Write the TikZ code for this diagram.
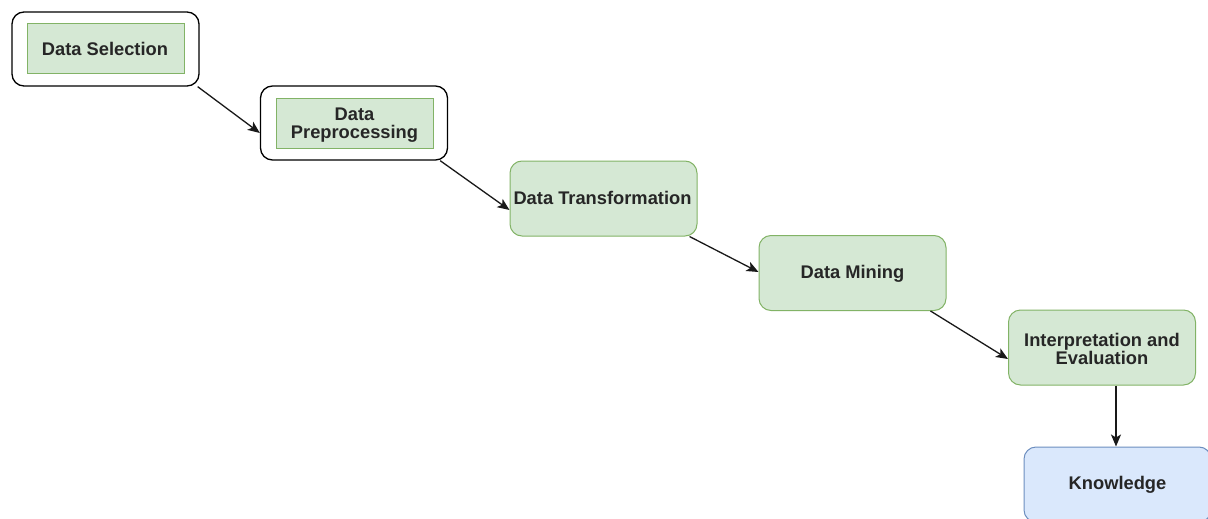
\documentclass[tikz,border=0pt]{standalone}
\usepackage{fontspec}
\setmainfont{Liberation Sans}
\usetikzlibrary{arrows.meta,calc}
\definecolor{gfill}{HTML}{D5E8D4}
\definecolor{gline}{HTML}{82B366}
\definecolor{bfill}{HTML}{DAE8FC}
\definecolor{bline}{HTML}{6C8EBF}
\definecolor{txt}{HTML}{262626}
\begin{document}
\begin{tikzpicture}[x=1pt,y=-1pt,
  lbl/.style={font=\fontsize{18.3}{18.5}\selectfont\bfseries, text=txt, align=center, inner sep=0pt},
  outerbox/.style={draw=black, fill=white, line width=1.3pt, rounded corners=12pt, minimum width=187pt, minimum height=74pt, inner sep=0pt},
  innerbox/.style={draw=gline, fill=gfill, line width=1pt, minimum width=157pt, minimum height=50pt, inner sep=0pt},
  greenbox/.style={draw=gline, fill=gfill, line width=1pt, rounded corners=12pt, minimum width=187pt, minimum height=75pt, inner sep=0pt},
  bluebox/.style={draw=bline, fill=bfill, line width=1pt, rounded corners=12pt, minimum width=187pt, minimum height=75pt, inner sep=0pt},
  conn/.style={draw=black!90, line width=1.3pt, -{Stealth[length=12pt,width=10pt,inset=3pt]}}]
\useasboundingbox (0,0) rectangle (1208,519);
\clip (0,0) rectangle (1208,519);

\node[outerbox] (o1) at (105.5,49) {};
\node[innerbox] (i1) at (105.5,49) {};
\node[lbl] (t1) at (105,49) {Data Selection};

\node[outerbox] (o2) at (354,123) {};
\node[innerbox] (i2) at (354.5,123) {};
\node[lbl] (t2) at (354.5,125) {Data\\Preprocessing};

\node[greenbox] (b3) at (603.5,198.5) {};
\node[lbl] (t3) at (602.5,198) {Data Transformation};

\node[greenbox] (b4) at (852.5,273) {};
\node[lbl] (t4) at (852.5,274) {Data Mining};

\node[greenbox] (b5) at (1102,347.5) {};
\node[lbl] (t5) at (1102,349) {Interpretation and\\Evaluation};

\node[bluebox] (b6) at (1117.5,484.5) {};
\node[lbl] (t6) at (1117.5,485) {Knowledge};

\draw[conn] ($(o1.south east)+(-2,0)$) -- ($(o2.west)+(0,10)$);
\draw[conn] ($(o2.south east)+(-8,0)$) -- ($(b3.west)+(0,11.5)$);
\draw[conn] ($(b3.south east)+(-8,0)$) -- ($(b4.west)+(0,-1)$);
\draw[conn] ($(b4.south east)+(-16,0)$) -- ($(b5.west)+(0,11.5)$);
\draw[conn] (b5.south -| b6.north) ++(-1.5,0) coordinate (s6) -- (s6 |- b6.north);
\end{tikzpicture}
\end{document}
